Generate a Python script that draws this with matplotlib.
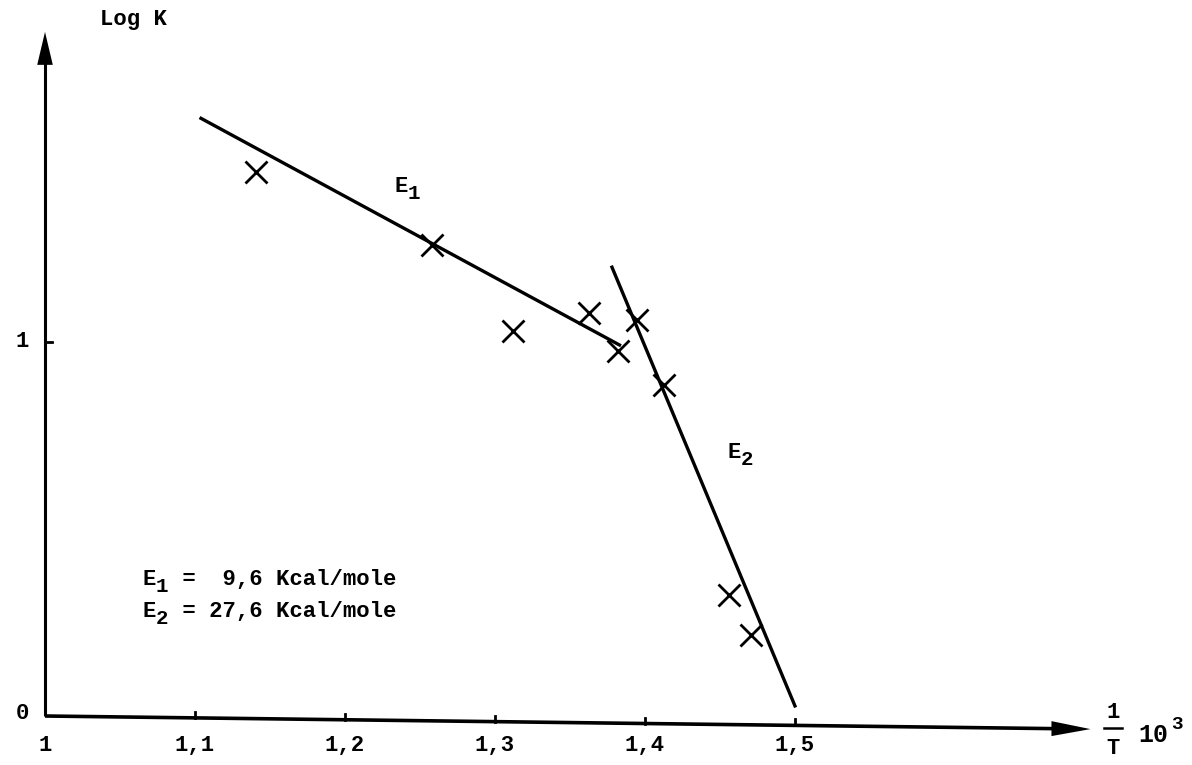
import matplotlib.pyplot as plt
import numpy as np

plt.rcParams['font.family'] = ['Liberation Mono', 'DejaVu Sans Mono']

# measured points (1/T * 10^3, log K)
inv_t = [1.141, 1.258, 1.312, 1.363, 1.382, 1.395, 1.413, 1.456, 1.471]
log_k = [1.455, 1.259, 1.029, 1.078, 0.975, 1.059, 0.885, 0.324, 0.217]

# fitted lines
line1_x = [1.104, 1.383]
line1_y = [1.598, 0.992]
line2_x = [1.378, 1.500]
line2_y = [1.200, 0.027]

x_ticks = [1.1, 1.2, 1.3, 1.4, 1.5]
x_tick_labels = ['1,1', '1,2', '1,3', '1,4', '1,5']
y_ticks = [1.0]

FS = 16
SAG = -0.035   # the scanned x axis drops a little to the right
X_END = 1.697

fig = plt.figure(figsize=(11.92, 7.65), dpi=100)
ax = fig.add_axes([0, 0, 1, 1])
ax.set_xlim(0.97, 1.7647)
ax.set_ylim(-0.131, 1.9144)
ax.axis('off')


def axis_y(x):
    return SAG * (x - 1.0) / (X_END - 1.0)


def label_e(x, y, sub, rest=''):
    # typewriter style: E, lowered index digit, then the rest on the next slots
    step = 0.6 * FS
    ax.text(x, y, 'E', ha='left', va='baseline', fontsize=FS, fontweight='bold')
    ax.annotate(sub, xy=(x, y), xytext=(step, -5), textcoords='offset points',
                ha='left', va='baseline', fontsize=FS - 1, fontweight='bold')
    if rest:
        ax.annotate(rest, xy=(x, y), xytext=(2 * step, 0), textcoords='offset points',
                    ha='left', va='baseline', fontsize=FS, fontweight='bold')


# axes with arrow heads
ax.plot([1.0, 1.675], [0, axis_y(1.675)], color='black', lw=2.6, solid_capstyle='butt')
ax.plot([1.0, 1.0], [0, 1.75], color='black', lw=2.2, solid_capstyle='butt')
ax.fill([1.671, X_END, 1.671], [axis_y(1.671) + 0.02, axis_y(X_END), axis_y(1.671) - 0.02],
        color='black', lw=0)
ax.fill([0.9948, 1.0, 1.0052], [1.741, 1.829, 1.741], color='black', lw=0)

# ticks
for xt in x_ticks:
    ax.plot([xt, xt], [axis_y(xt), axis_y(xt) + 0.016], color='black', lw=2)
for yt in y_ticks:
    ax.plot([1.0, 1.005], [yt, yt], color='black', lw=2)

ax.text(1.0, -0.078, '1', ha='center', va='center', fontsize=FS, fontweight='bold')
for xt, lab in zip(x_ticks, x_tick_labels):
    ax.text(xt, -0.08, lab, ha='center', va='center', fontsize=FS, fontweight='bold')
ax.text(0.985, 0.008, '0', ha='center', va='center', fontsize=FS, fontweight='bold')
ax.text(0.985, 1.0, '1', ha='center', va='center', fontsize=FS, fontweight='bold')

ax.text(1.037, 1.862, 'Log K', ha='left', va='center', fontsize=FS, fontweight='bold')

# 1/T 10^3
ax.text(1.712, 0.010, '1', ha='center', va='center', fontsize=FS, fontweight='bold')
ax.plot([1.706, 1.718], [-0.032, -0.032], color='black', lw=1.8)
ax.text(1.712, -0.086, 'T', ha='center', va='center', fontsize=FS, fontweight='bold')
ax.text(1.729, -0.052, '10', ha='left', va='center', fontsize=FS + 2, fontweight='bold')
ax.text(1.751, -0.022, '3', ha='left', va='center', fontsize=FS - 2, fontweight='bold')

# lines and points
ax.plot(line1_x, line1_y, color='black', lw=2.4)
ax.plot(line2_x, line2_y, color='black', lw=2.4)
ax.plot(inv_t, log_k, 'x', color='black', markersize=16, markeredgewidth=2.0)

label_e(1.233, 1.40, '1')
label_e(1.455, 0.69, '2')
label_e(1.065, 0.350, '1', ' =  9,6 Kcal/mole')
label_e(1.065, 0.265, '2', ' = 27,6 Kcal/mole')

fig.savefig('out.png', dpi=100)
